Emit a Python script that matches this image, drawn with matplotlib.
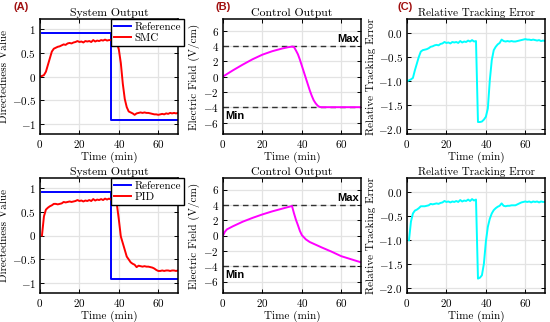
import matplotlib
matplotlib.use("Agg")
import matplotlib.pyplot as plt
import numpy as np

plt.rcParams["font.family"] = "cmr10"
plt.rcParams["mathtext.fontset"] = "cm"
plt.rcParams["axes.formatter.use_mathtext"] = True

# ---- data ----
minutes = list(range(0, 71))
minutes_pid = list(range(1, 71))

ref_time = [1, 36, 70]
ref_level = [0.9, -0.9, -0.9]

smc_output = [0.00, 0.01, 0.03, 0.10, 0.24, 0.38, 0.52, 0.58, 0.60, 0.62,
              0.63, 0.65, 0.67, 0.66, 0.69, 0.70, 0.69, 0.71, 0.72, 0.74,
              0.72, 0.73, 0.71, 0.74, 0.73, 0.74, 0.72, 0.76, 0.73, 0.75,
              0.74, 0.76, 0.75, 0.77, 0.75, 0.76, 0.76, 0.75, 0.74, 0.70,
              0.56, 0.28, -0.15, -0.47, -0.64, -0.73, -0.75, -0.77, -0.80, -0.77,
              -0.76, -0.75, -0.76, -0.75, -0.76, -0.76, -0.77, -0.78, -0.79, -0.79,
              -0.80, -0.79, -0.78, -0.79, -0.77, -0.78, -0.76, -0.77, -0.76, -0.77,
              -0.76]

pid_output = [0.00, 0.40, 0.54, 0.58, 0.61, 0.63, 0.66, 0.66, 0.65, 0.66,
              0.67, 0.70, 0.69, 0.70, 0.71, 0.70, 0.71, 0.72, 0.74, 0.72,
              0.73, 0.71, 0.73, 0.72, 0.74, 0.72, 0.76, 0.73, 0.75, 0.74,
              0.76, 0.74, 0.77, 0.75, 0.77, 0.75, 0.72, 0.70, 0.65, 0.33,
              -0.02, -0.16, -0.30, -0.44, -0.50, -0.56, -0.59, -0.61, -0.66, -0.63,
              -0.64, -0.65, -0.64, -0.65, -0.65, -0.66, -0.67, -0.69, -0.72, -0.74,
              -0.74, -0.73, -0.74, -0.73, -0.73, -0.74, -0.73, -0.73, -0.74, -0.73]

smc_field_time = [0, 5, 10, 15, 20, 25, 30, 33, 35, 36, 37, 38, 39, 40, 41,
                  42, 43, 44, 45, 46, 47, 48, 49, 50, 70]
smc_field = [0.0, 0.8, 1.55, 2.25, 2.85, 3.3, 3.65, 3.82, 3.9, 3.85, 3.4,
             2.9, 2.2, 1.4, 0.6, -0.2, -1.0, -1.8, -2.5, -3.1, -3.5, -3.8,
             -3.97, -4.0, -4.0]

pid_field_time = [0, 1, 2, 5, 10, 15, 20, 25, 30, 35, 36, 37, 38, 39, 40,
                  42, 44, 50, 55, 60, 65, 70]
pid_field = [0.0, 0.5, 0.8, 1.2, 1.8, 2.3, 2.75, 3.15, 3.5, 3.85, 2.9,
             2.05, 1.35, 0.6, 0.05, -0.5, -0.85, -1.55, -2.1, -2.7, -3.1, -3.5]

field_max = 4
field_min = -4

smc_error = [-1.00, -0.98, -0.96, -0.93, -0.77, -0.63, -0.49, -0.38, -0.35, -0.34,
             -0.33, -0.31, -0.28, -0.27, -0.25, -0.24, -0.25, -0.22, -0.21, -0.18,
             -0.20, -0.19, -0.21, -0.18, -0.19, -0.18, -0.20, -0.16, -0.19, -0.17,
             -0.18, -0.15, -0.17, -0.14, -0.17, -0.16, -1.85, -1.85, -1.84, -1.80,
             -1.74, -1.57, -0.98, -0.56, -0.35, -0.28, -0.23, -0.20, -0.13, -0.16,
             -0.17, -0.16, -0.17, -0.16, -0.17, -0.17, -0.16, -0.15, -0.14, -0.13,
             -0.12, -0.13, -0.13, -0.14, -0.13, -0.14, -0.15, -0.14, -0.16, -0.15,
             -0.16]

pid_error = [-1.00, -0.61, -0.44, -0.38, -0.36, -0.33, -0.29, -0.29, -0.29, -0.28,
             -0.27, -0.24, -0.25, -0.24, -0.23, -0.24, -0.22, -0.21, -0.18, -0.20,
             -0.19, -0.21, -0.19, -0.20, -0.18, -0.20, -0.16, -0.19, -0.17, -0.18,
             -0.15, -0.18, -0.14, -0.17, -0.15, -1.80, -1.78, -1.73, -1.49, -1.03,
             -0.72, -0.55, -0.44, -0.37, -0.33, -0.30, -0.28, -0.23, -0.28, -0.29,
             -0.28, -0.28, -0.27, -0.27, -0.27, -0.25, -0.23, -0.21, -0.20, -0.19,
             -0.20, -0.19, -0.21, -0.19, -0.20, -0.19, -0.21, -0.19, -0.20, -0.20]

# ---- layout ----
W, H = 550, 322
fig = plt.figure(figsize=(W / 100, H / 100), dpi=100)
lefts = [40, 223, 407]
tops = [19, 178]
aw, ah = 138, 115
FS = 8


def make_ax(col, row):
    x0 = lefts[col] / W
    y0 = 1 - (tops[row] + ah) / H
    ax = fig.add_axes([x0, y0, aw / W, ah / H])
    ax.set_xlim(0, 70)
    ax.set_xticks([0, 20, 40, 60])
    ax.grid(color="#e3e3e3", linewidth=0.9)
    ax.set_axisbelow(True)
    for s in ax.spines.values():
        s.set_linewidth(1.1)
    ax.tick_params(direction="in", top=True, right=True, length=3,
                   width=0.7, labelsize=8, pad=3)
    ax.set_xlabel("Time (min)", fontsize=FS, labelpad=1)
    return ax


def sys_panel(ax, t, y, name):
    ax.step(ref_time, ref_level, where="post", color="#0000ff", lw=1.4, label="Reference")
    ax.plot(t, y, color="#ff0000", lw=1.4, label=name)
    ax.set_ylim(-1.2, 1.2)
    ax.set_yticks([-1, -0.5, 0, 0.5, 1])
    ax.set_yticklabels(["$-1$", "$-0.5$", "$0$", "$0.5$", "$1$"])
    ax.set_title("System Output", fontsize=FS + 0.5, pad=2)
    ax.set_ylabel("Directedness Value", fontsize=FS, labelpad=2)
    leg = ax.legend(loc="upper right", bbox_to_anchor=(1.04, 1.0), fontsize=8,
                    fancybox=False, framealpha=1, edgecolor="black",
                    handlelength=1.5, handletextpad=0.3, borderpad=0.25,
                    labelspacing=0.15, borderaxespad=0)
    leg.get_frame().set_linewidth(1.0)


def ctrl_panel(ax, t, y):
    ax.axhline(field_max, color="#333333", ls=(0, (4, 3)), lw=1.0)
    ax.axhline(field_min, color="#333333", ls=(0, (4, 3)), lw=1.0)
    ax.plot(t, y, color="#ff00ff", lw=1.4)
    ax.set_ylim(-7.5, 7.5)
    ax.set_yticks([-6, -4, -2, 0, 2, 4, 6])
    ax.set_title("Control Output", fontsize=FS + 0.5, pad=2)
    ax.set_ylabel("Electric Field (V/cm)", fontsize=FS, labelpad=2)
    ax.text(69, field_max + 0.3, "Max", family="Liberation Sans", weight="bold",
            fontsize=8, ha="right", va="bottom")
    ax.text(1, field_min - 0.5, "Min", family="Liberation Sans", weight="bold",
            fontsize=8, ha="left", va="top")


def err_panel(ax, t, y):
    ax.plot(t, y, color="#00ffff", lw=1.4)
    ax.set_ylim(-2.1, 0.3)
    ax.set_yticks([-2, -1.5, -1, -0.5, 0])
    ax.set_title("Relative Tracking Error", fontsize=FS, pad=2)
    ax.set_ylabel("Relative Tracking Error", fontsize=FS, labelpad=2)


sys_panel(make_ax(0, 0), minutes, smc_output, "SMC")
ctrl_panel(make_ax(1, 0), smc_field_time, smc_field)
err_panel(make_ax(2, 0), minutes, smc_error)
sys_panel(make_ax(0, 1), minutes_pid, pid_output, "PID")
ctrl_panel(make_ax(1, 1), pid_field_time, pid_field)
err_panel(make_ax(2, 1), minutes_pid, pid_error)

for lbl, x in zip(["(A)", "(B)", "(C)"], [14, 215, 398]):
    fig.text(x / W, 1 - 7 / H, lbl, family="Liberation Sans", weight="bold",
             fontsize=8, color="#a01010", ha="left", va="center")

fig.savefig("out.png", dpi=100)
